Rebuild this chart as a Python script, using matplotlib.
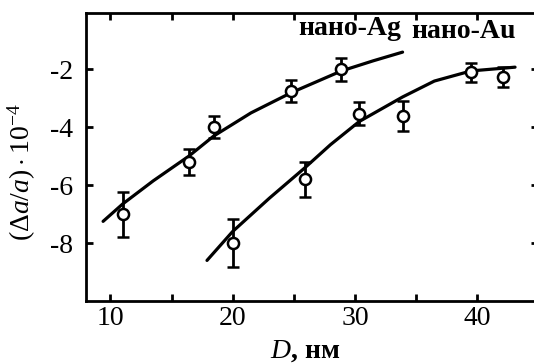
import matplotlib
matplotlib.use('Agg')
import matplotlib.pyplot as plt

plt.rcParams.update({
    'font.family': ['Liberation Serif', 'DejaVu Serif'],
    'mathtext.fontset': 'custom',
    'mathtext.rm': 'Liberation Serif',
    'mathtext.it': 'Liberation Serif:italic',
})

# measured points (D in nm, value in 1e-4)
ag_d = [11.0, 16.4, 18.45, 24.8, 28.9]
ag_val = [-7.0, -5.2, -4.0, -2.75, -2.0]
ag_err = [0.78, 0.45, 0.38, 0.37, 0.4]

au_d = [20.0, 25.9, 30.35, 33.9, 39.5, 42.1]
au_val = [-8.0, -5.8, -3.53, -3.6, -2.1, -2.26]
au_err = [0.82, 0.6, 0.4, 0.52, 0.32, 0.35]

# fitted curves as drawn
ag_fit_d = [9.4, 11.0, 13.5, 16.4, 18.45, 21.5, 24.8, 28.9, 31.5, 33.9]
ag_fit_val = [-7.25, -6.65, -5.85, -5.0, -4.3, -3.5, -2.8, -2.05, -1.7, -1.4]
au_fit_d = [17.9, 20.0, 23.0, 25.9, 28.0, 30.35, 33.9, 36.5, 39.5, 43.1]
au_fit_val = [-8.6, -7.6, -6.45, -5.4, -4.6, -3.8, -2.95, -2.4, -2.05, -1.92]

fig = plt.figure(figsize=(5.34, 3.63), dpi=100)
ax = fig.add_axes([0.161, 0.171, 0.847, 0.793])

ax.plot(ag_fit_d, ag_fit_val, 'k-', linewidth=2.3, solid_capstyle='round')
ax.plot(au_fit_d, au_fit_val, 'k-', linewidth=2.3, solid_capstyle='round')
for d, v, e in [(ag_d, ag_val, ag_err), (au_d, au_val, au_err)]:
    ax.errorbar(d, v, yerr=e, fmt='o', color='k', mfc='white', mec='k',
                ms=8, mew=1.8, elinewidth=2, capsize=4, capthick=2.5)

ax.text(25.4, -0.82, 'нано-Ag', fontsize=20, fontweight='bold', va='baseline')
ax.text(34.6, -0.9, 'нано-Au', fontsize=20, fontweight='bold', va='baseline')

ax.set_xlim(8, 45)
ax.set_ylim(-10, -0.05)
ax.set_xticks([10, 15, 20, 25, 30, 35, 40])
ax.set_xticklabels(['10', '', '20', '', '30', '', '40'])
ax.set_yticks([-2, -4, -6, -8])
ax.set_yticklabels(['-2', '-4', '-6', '-8'])
ax.tick_params(direction='in', length=5, width=2, top=True, right=True,
               labelsize=20)
ax.tick_params(axis='x', pad=4)
ax.tick_params(axis='y', pad=9)
for s in ax.spines.values():
    s.set_linewidth(2)

ax.set_xlabel('$D$, нм', fontsize=20, fontweight='bold')
ax.xaxis.set_label_coords(0.484, -0.13)
ax.set_ylabel(r'$(\Delta a/a)\cdot 10^{-4}$', fontsize=20)
ax.yaxis.set_label_coords(-0.106, 0.448)

fig.savefig('out.png', dpi=100)
